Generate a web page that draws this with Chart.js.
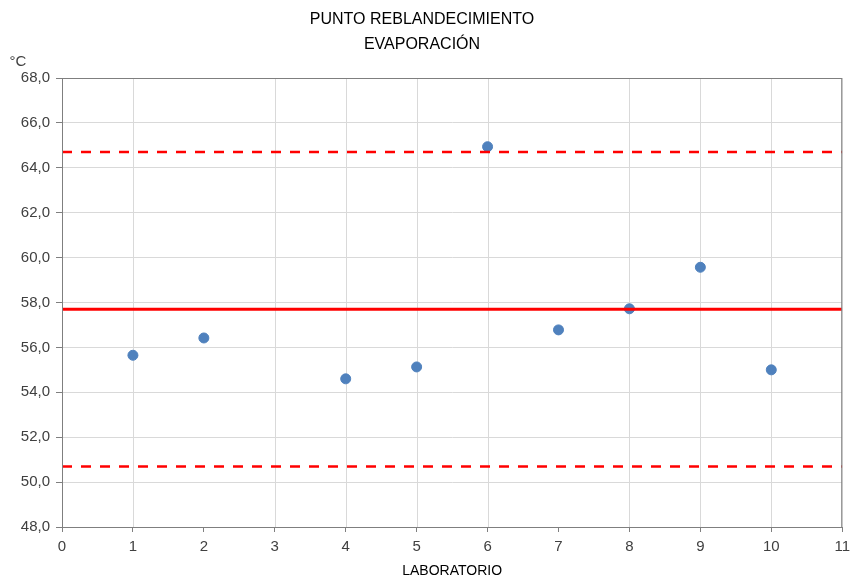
<!DOCTYPE html>
<html>
<head>
<meta charset="utf-8">
<script src="https://cdn.jsdelivr.net/npm/chart.js@4"></script>
<style>
  html, body { margin: 0; padding: 0; background: #fff; }
  #wrap { width: 856px; height: 580px; position: relative; }
</style>
</head>
<body>
<div id="wrap"><canvas id="chart"></canvas></div>
<script>
const titleLines = ["PUNTO REBLANDECIMIENTO", "EVAPORACIÓN"];
const labs = [1, 2, 4, 5, 6, 7, 8, 9, 10];
const temps = [55.65, 56.42, 54.6, 55.13, 64.94, 56.78, 57.72, 59.57, 55.0];
const limitX = [0, 11];
const centerLine = [57.7, 57.7];
const upperLimit = [64.7, 64.7];
const lowerLimit = [50.7, 50.7];
const hiddenXGrid = [2, 7];

const FONT = "'Liberation Sans Narrow', 'Liberation Sans', sans-serif";
const AXIS = "#7f7f7f";

const toPoints = (xs, ys) => xs.map((x, i) => ({ x, y: ys[i] }));

// vertical grid lines, skipping the ones missing in the original
const xGridPlugin = {
  id: "xgrid",
  beforeDatasetsDraw(chart) {
    const { ctx, chartArea, scales } = chart;
    ctx.save();
    ctx.strokeStyle = "#d9d9d9";
    ctx.lineWidth = 1;
    scales.x.ticks.forEach((t) => {
      if (hiddenXGrid.includes(t.value)) return;
      const px = Math.round(scales.x.getPixelForValue(t.value)) + 0.5;
      ctx.beginPath();
      ctx.moveTo(px, chartArea.top);
      ctx.lineTo(px, chartArea.bottom);
      ctx.stroke();
    });
    ctx.restore();
  },
};

const textPlugin = {
  id: "texts",
  afterDraw(chart) {
    const { ctx, chartArea } = chart;
    ctx.save();
    ctx.fillStyle = "#000";
    ctx.textAlign = "center";
    ctx.textBaseline = "middle";
    ctx.font = "16px " + FONT;
    ctx.fillText(titleLines[0], 422, 20);
    ctx.fillText(titleLines[1], 422, 45);
    ctx.font = "15px " + FONT;
    ctx.fillStyle = "#404040";
    ctx.fillText("°C", 18, 62);
    ctx.strokeStyle = AXIS;
    ctx.lineWidth = 1;
    ctx.strokeRect(chartArea.left + 0.5, chartArea.top + 0.5,
      chartArea.right - chartArea.left - 1, chartArea.bottom - chartArea.top);
    ctx.restore();
  },
};

new Chart(document.getElementById("chart").getContext("2d"), {
  type: "scatter",
  data: {
    datasets: [
      {
        type: "line",
        data: toPoints(limitX, upperLimit),
        borderColor: "#ff0000",
        borderWidth: 2.5,
        borderDash: [10, 9],
        pointRadius: 0,
      },
      {
        type: "line",
        data: toPoints(limitX, centerLine),
        borderColor: "#ff0000",
        borderWidth: 3,
        pointRadius: 0,
      },
      {
        type: "line",
        data: toPoints(limitX, lowerLimit),
        borderColor: "#ff0000",
        borderWidth: 2.5,
        borderDash: [10, 9],
        pointRadius: 0,
      },
      {
        data: toPoints(labs, temps),
        backgroundColor: "#4f81bd",
        borderColor: "#4f81bd",
        pointRadius: 5,
        pointHoverRadius: 5,
      },
    ],
  },
  options: {
    responsive: true,
    maintainAspectRatio: false,
    animation: false,
    layout: { padding: { top: 78, right: 9, left: 0, bottom: 0 } },
    plugins: {
      legend: { display: false },
      tooltip: { enabled: false },
    },
    scales: {
      x: {
        type: "linear",
        min: 0,
        max: 11,
        afterFit: (scale) => { scale.height = 53; },
        ticks: {
          stepSize: 1,
          color: "#404040",
          font: { family: FONT, size: 15 },
          padding: 6,
        },
        grid: {
          drawOnChartArea: false,
          tickColor: AXIS,
          tickLength: 5,
        },
        border: { color: AXIS },
        title: {
          display: true,
          text: "LABORATORIO",
          color: "#000",
          font: { family: FONT, size: 14 },
          padding: { top: 0, bottom: 0 },
        },
      },
      y: {
        min: 48,
        max: 68,
        afterFit: (scale) => { scale.width = 62; },
        ticks: {
          stepSize: 2,
          color: "#404040",
          font: { family: FONT, size: 15 },
          padding: 6,
          callback: (v) => v.toFixed(1).replace(".", ","),
        },
        grid: {
          color: "#d9d9d9",
          tickColor: AXIS,
          tickLength: 6,
        },
        border: { color: AXIS },
      },
    },
  },
  plugins: [xGridPlugin, textPlugin],
});
</script>
</body>
</html>
